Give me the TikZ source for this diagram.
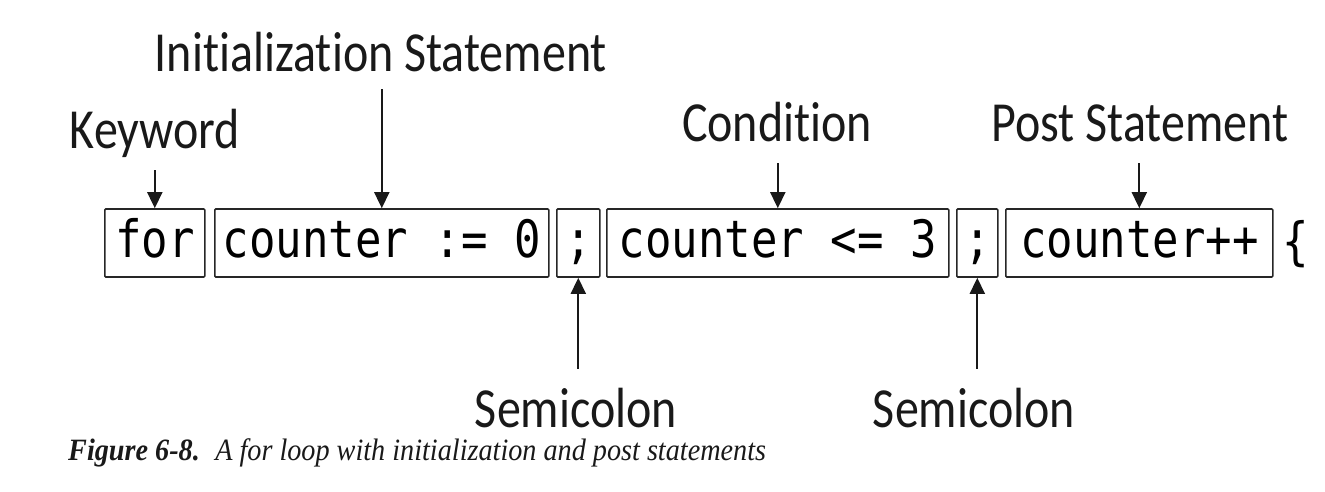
\documentclass[tikz,border=0pt]{standalone}
\usepackage{fontspec}
\setmainfont{Liberation Serif}
\newfontfamily\labfont[Ligatures=NoCommon]{Carlito}
\newfontfamily\codefont{DejaVu Sans Mono}
\usetikzlibrary{arrows.meta,calc}
\newcommand{\tallcode}[1]{\scalebox{1}[1.17]{#1}}
\newcommand{\talllab}[1]{\scalebox{1}[1.18]{#1}}
\begin{document}
\begin{tikzpicture}[x=1pt,y=-1pt,
  codebox/.style={draw=black!85, line width=1.6pt, rounded corners=1pt, inner sep=0pt,
    minimum height=68pt, font=\codefont\fontsize{44}{44}\selectfont,
    text height=38pt, text depth=10pt, anchor=west},
  lab/.style={font=\labfont\fontsize{48}{48}\selectfont, anchor=base, inner sep=0pt, text=black!90},
  arr/.style={line width=1.7pt, draw=black!90, -{Triangle[length=16pt,width=15pt]}}
]
\useasboundingbox (0,0) rectangle (1325,491);

% code boxes
\node[codebox, minimum width=100pt] (kw)   at (104,243) {\tallcode{for}};
\node[codebox, minimum width=334pt] (init) at (214,243) {\tallcode{counter := 0}};
\node[codebox, minimum width=43pt]  (s1)   at (556,243) {\tallcode{;}};
\node[codebox, minimum width=342pt] (cond) at (606,243) {\tallcode{counter <= 3}};
\node[codebox, minimum width=41pt]  (s2)   at (956,243) {\tallcode{;}};
\node[codebox, minimum width=267pt] (post) at (1005,243) {\tallcode{counter++}};
\node[anchor=base, inner sep=0pt, font=\codefont\fontsize{44}{44}\selectfont] (br) at (1296,259) {\tallcode{\{}};

% labels
\node[lab] (lkw)   at (155,148)  {\talllab{Keyword}};
\node[lab] (linit) at (381,71)   {\talllab{Initialization Statement}};
\node[lab] (lcond) at (777,141)  {\talllab{Condition}};
\node[lab] (lpost) at (1140,141) {\talllab{Post Statement}};
\node[lab] (ls1)   at (576,427)  {\talllab{Semicolon}};
\node[lab] (ls2)   at (974,427)  {\talllab{Semicolon}};

% arrow tails
\coordinate (tkw)   at ($(kw.north)+(0,-38)$);
\coordinate (tinit) at ($(init.north)+(0,-119)$);
\coordinate (tcond) at ($(cond.north)+(0,-45)$);
\coordinate (tpost) at ($(post.north)+(0,-45)$);
\coordinate (ts1)   at ($(s1.south)+(0,91)$);
\coordinate (ts2)   at ($(s2.south)+(0,91)$);

\draw[arr] (tkw) -- (kw.north);
\draw[arr] (tinit) -- (init.north);
\draw[arr] (tcond) -- (cond.north);
\draw[arr] (tpost) -- (post.north);
\draw[arr] (ts1) -- (s1.south);
\draw[arr] (ts2) -- (s2.south);

% caption
\node[anchor=base west, inner sep=0pt, font=\fontsize{28.2}{28.2}\selectfont, text=black!90] (cap) at (68,460)
  {\scalebox{1}[1.1]{\textbf{\textit{Figure 6-8.}}\hspace{0.55em}\textit{A for loop with initialization and post statements}}};
\end{tikzpicture}
\end{document}
